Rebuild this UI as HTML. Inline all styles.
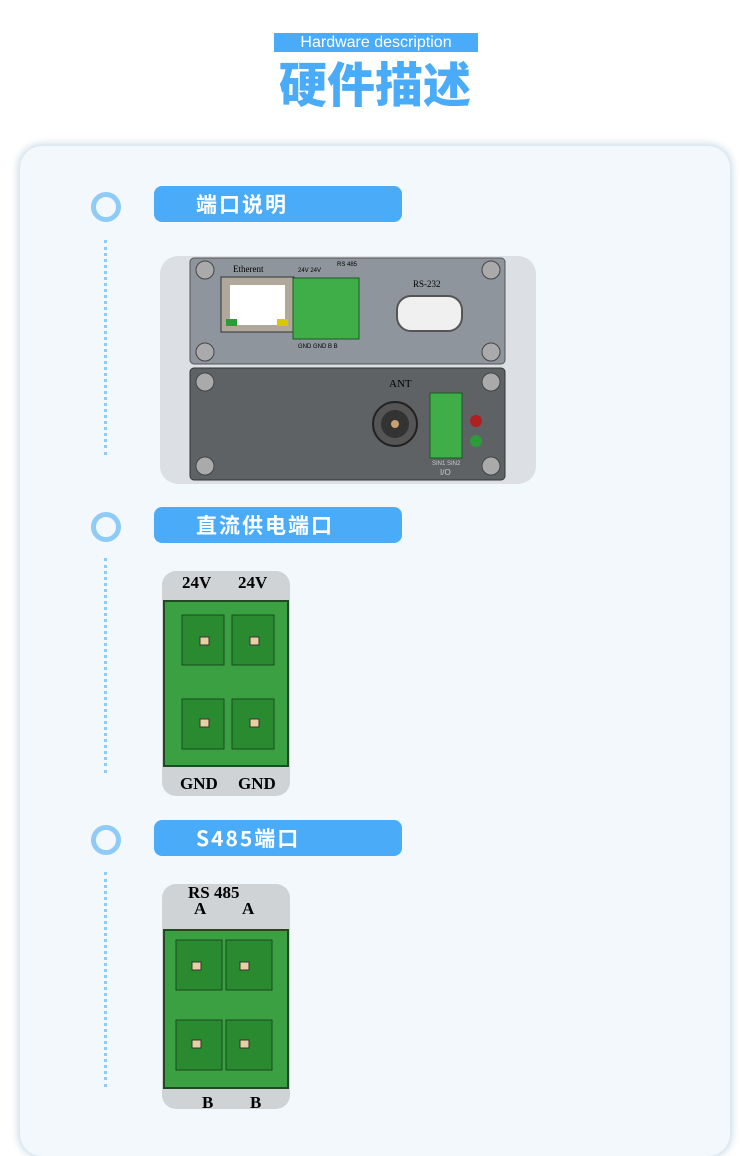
<!DOCTYPE html>
<html><head><meta charset="utf-8"><style>
body{margin:0;width:750px;height:1125px;background:#fff;position:relative;overflow:hidden;font-family:"Liberation Sans","Noto Sans CJK SC",sans-serif}
.a{position:absolute}
.card{left:20px;top:146px;width:710px;height:1010px;background:#f3f8fc;border-radius:22px;box-shadow:0 0 8px 2px #c9dbe6}
.circ{width:20px;height:20px;border:5px solid #8fcbf7;border-radius:50%}
.pill{width:248px;height:36px;background:#4aabf8;border-radius:8px;color:#fff;font-size:21px;font-weight:bold;line-height:36px;letter-spacing:2px;box-sizing:border-box;padding-left:42px;font-family:"Noto Sans CJK SC",sans-serif}
.dots{width:0;border-left:3px dotted #8fcbf7}
</style></head><body>
<div class="a" style="left:274px;top:33px;width:204px;height:19px;background:#4aabf8;color:#fff;font-size:16px;line-height:19px;text-align:center">Hardware description</div>
<div class="a" style="left:0;top:50px;width:750px;text-align:center;color:#4aabf8;font-size:48px;font-weight:900;font-family:'Noto Sans CJK SC',sans-serif;line-height:62px">硬件描述</div>
<div class="a card"></div>

<div class="a circ" style="left:91px;top:192px"></div>
<div class="a pill" style="left:154px;top:186px">端口说明</div>
<div class="a dots" style="left:104px;top:240px;height:215px"></div>
<svg class="a" style="left:160px;top:256px" width="376" height="228">
<rect x="0" y="0" width="376" height="228" rx="18" fill="#dcdfe3"/>
<rect x="30" y="2" width="315" height="106" rx="4" fill="#8f959c" stroke="#555" />
<rect x="30" y="112" width="315" height="112" rx="4" fill="#5e6265" stroke="#333"/>
<g fill="#aaa" stroke="#444"><circle cx="45" cy="14" r="9"/><circle cx="331" cy="14" r="9"/><circle cx="45" cy="96" r="9"/><circle cx="331" cy="96" r="9"/><circle cx="45" cy="126" r="9"/><circle cx="331" cy="126" r="9"/><circle cx="45" cy="210" r="9"/><circle cx="331" cy="210" r="9"/></g>
<text x="73" y="16" font-size="9" font-family="Liberation Serif">Etherent</text>
<rect x="61" y="21" width="73" height="55" fill="#b0a89b" stroke="#333"/>
<rect x="70" y="29" width="55" height="40" fill="#fff"/>
<rect x="66" y="63" width="11" height="7" fill="#2e9b3a"/><rect x="117" y="63" width="11" height="7" fill="#d8c800"/>
<rect x="133" y="22" width="66" height="61" fill="#3fae48" stroke="#1a5a22"/>
<text x="138" y="16" font-size="6">24V  24V</text><text x="177" y="10" font-size="6">RS  485</text>
<text x="138" y="92" font-size="6">GND  GND     B    B</text>
<rect x="237" y="40" width="65" height="35" rx="14" fill="#f0f0f0" stroke="#555" stroke-width="2"/>
<text x="253" y="31" font-size="9" font-family="Liberation Serif">RS-232</text>
<text x="229" y="131" font-size="11" font-family="Liberation Serif">ANT</text>
<circle cx="235" cy="168" r="22" fill="#555" stroke="#222" stroke-width="2"/><circle cx="235" cy="168" r="14" fill="#333"/><circle cx="235" cy="168" r="4" fill="#c9a070"/>
<rect x="270" y="137" width="32" height="65" fill="#3fae48" stroke="#1a5a22"/>
<circle cx="316" cy="165" r="6" fill="#b02020"/><circle cx="316" cy="185" r="6" fill="#2e9b3a"/>
<text x="272" y="209" font-size="6" fill="#ccc">SIN1 SIN2</text><text x="280" y="219" font-size="8" fill="#ccc">I/O</text>
</svg>

<div class="a circ" style="left:91px;top:512px"></div>
<div class="a pill" style="left:154px;top:507px">直流供电端口</div>
<div class="a dots" style="left:104px;top:558px;height:215px"></div>
<svg class="a" style="left:162px;top:571px" width="128" height="225">
<rect width="128" height="225" rx="14" fill="#cfd3d6"/>
<rect x="2" y="30" width="124" height="165" fill="#3aa041" stroke="#1f4a22" stroke-width="2"/>
<g fill="#2a8a30" stroke="#1a4a1e"><rect x="20" y="44" width="42" height="50"/><rect x="70" y="44" width="42" height="50"/><rect x="20" y="128" width="42" height="50"/><rect x="70" y="128" width="42" height="50"/></g>
<g fill="#e8d0a0" stroke="#333"><rect x="38" y="66" width="9" height="8"/><rect x="88" y="66" width="9" height="8"/><rect x="38" y="148" width="9" height="8"/><rect x="88" y="148" width="9" height="8"/></g>
<text x="20" y="17" font-size="17" font-weight="bold" font-family="Liberation Serif">24V</text><text x="76" y="17" font-size="17" font-weight="bold" font-family="Liberation Serif">24V</text>
<text x="18" y="218" font-size="17" font-weight="bold" font-family="Liberation Serif">GND</text><text x="76" y="218" font-size="17" font-weight="bold" font-family="Liberation Serif">GND</text>
</svg>

<div class="a circ" style="left:91px;top:825px"></div>
<div class="a pill" style="left:154px;top:820px">S485端口</div>
<div class="a dots" style="left:104px;top:872px;height:215px"></div>
<svg class="a" style="left:162px;top:884px" width="128" height="225">
<rect width="128" height="225" rx="14" fill="#cfd3d6"/>
<rect x="2" y="46" width="124" height="158" fill="#3aa041" stroke="#1f4a22" stroke-width="2"/>
<g fill="#2a8a30" stroke="#1a4a1e"><rect x="14" y="56" width="46" height="50"/><rect x="64" y="56" width="46" height="50"/><rect x="14" y="136" width="46" height="50"/><rect x="64" y="136" width="46" height="50"/></g>
<g fill="#e8d0a0" stroke="#333"><rect x="30" y="78" width="9" height="8"/><rect x="78" y="78" width="9" height="8"/><rect x="30" y="156" width="9" height="8"/><rect x="78" y="156" width="9" height="8"/></g>
<text x="26" y="14" font-size="17" font-weight="bold" font-family="Liberation Serif">RS  485</text>
<text x="32" y="30" font-size="17" font-weight="bold" font-family="Liberation Serif">A</text><text x="80" y="30" font-size="17" font-weight="bold" font-family="Liberation Serif">A</text>
<text x="40" y="224" font-size="17" font-weight="bold" font-family="Liberation Serif">B</text><text x="88" y="224" font-size="17" font-weight="bold" font-family="Liberation Serif">B</text>
</svg>
</body></html>
